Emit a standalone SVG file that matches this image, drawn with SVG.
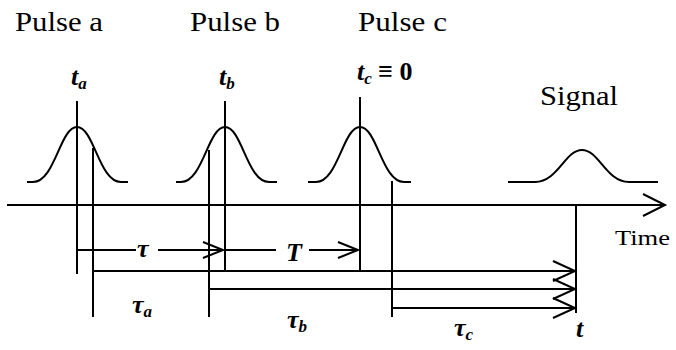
<svg xmlns="http://www.w3.org/2000/svg" width="676" height="350" viewBox="0 0 676 350">
<rect width="676" height="350" fill="#fff"/>
<g id="pulse-a">
<text x="15" y="31" font-size="27" textLength="88" lengthAdjust="spacingAndGlyphs" font-family="Liberation Serif, serif">Pulse a</text>
<text x="71" y="85" font-size="26" font-weight="bold" font-style="italic" font-family="Liberation Serif, serif">t<tspan font-size="17" dy="4">a</tspan></text>
<path stroke="#000" stroke-width="2" fill="none" d="M27,182 L33,182 C55,182 60,127 77,127 C94,127 99,182 121,182 L128,182"/>
</g>
<g id="pulse-b">
<text x="190" y="31" font-size="27" textLength="90" lengthAdjust="spacingAndGlyphs" font-family="Liberation Serif, serif">Pulse b</text>
<text x="219" y="85" font-size="26" font-weight="bold" font-style="italic" font-family="Liberation Serif, serif">t<tspan font-size="17" dy="4">b</tspan></text>
<path stroke="#000" stroke-width="2" fill="none" d="M176,182 L181,182 C203,182 208,127 225,127 C242,127 247,182 269,182 L277,182"/>
</g>
<g id="pulse-c">
<text x="358" y="31" font-size="27" textLength="89" lengthAdjust="spacingAndGlyphs" font-family="Liberation Serif, serif">Pulse c</text>
<text x="357" y="80" font-size="26" font-weight="bold" font-style="italic" font-family="Liberation Serif, serif">t<tspan font-size="17" dy="4">c</tspan><tspan dy="-4" font-style="normal"> ≡ 0</tspan></text>
<path stroke="#000" stroke-width="2" fill="none" d="M308,182 L316,182 C338,182 343,127 360,127 C377,127 382,182 404,182 L411,182"/>
</g>
<g id="signal">
<text x="540" y="105" font-size="27" textLength="78" lengthAdjust="spacingAndGlyphs" font-family="Liberation Serif, serif">Signal</text>
<path stroke="#000" stroke-width="2" fill="none" d="M508,182 L535,182 C558,182 565,150 582,150 C599,150 606,182 629,182 L658,182"/>
</g>
<g id="time-axis">
<g stroke="#000" stroke-width="2" fill="none">
<line x1="7" y1="205" x2="664" y2="205"/>
<path d="M643,194 L665,205 L643,216"/>
</g>
<text x="615" y="245" font-size="22" textLength="55" lengthAdjust="spacingAndGlyphs" font-family="Liberation Serif, serif">Time</text>
</g>
<g id="connectors" stroke="#000" stroke-width="2" fill="none">
<line x1="77" y1="101" x2="77" y2="274"/>
<line x1="93" y1="148" x2="93" y2="317"/>
<line x1="209" y1="150" x2="209" y2="317"/>
<line x1="225" y1="101" x2="225" y2="272"/>
<line x1="360" y1="97" x2="360" y2="272"/>
<line x1="392" y1="181" x2="392" y2="317"/>
<line x1="576" y1="205" x2="576" y2="313"/>
<line x1="77" y1="250" x2="136" y2="250"/>
<line x1="158" y1="250" x2="223" y2="250"/>
<path d="M203,242 L223,250 L203,258"/>
<line x1="225" y1="250" x2="276" y2="250"/>
<line x1="309" y1="250" x2="358" y2="250"/>
<path d="M338,242 L358,250 L338,258"/>
<line x1="93" y1="271" x2="575" y2="271"/>
<path d="M553,261 L575,271 L553,281"/>
<line x1="209" y1="289" x2="575" y2="289"/>
<path d="M553,279 L575,289 L553,299"/>
<line x1="392" y1="308" x2="575" y2="308"/>
<path d="M553,298 L575,308 L553,318"/>
</g>
<g id="labels" font-family="Liberation Serif, serif" font-size="26" font-weight="bold" font-style="italic">
<text x="137" y="257">τ</text>
<text x="286" y="261">T</text>
<text x="132" y="313">τ<tspan font-size="17" dy="4">a</tspan></text>
<text x="287" y="328">τ<tspan font-size="17" dy="4">b</tspan></text>
<text x="454" y="336">τ<tspan font-size="17" dy="4">c</tspan></text>
<text x="576" y="337">t</text>
</g>
</svg>
